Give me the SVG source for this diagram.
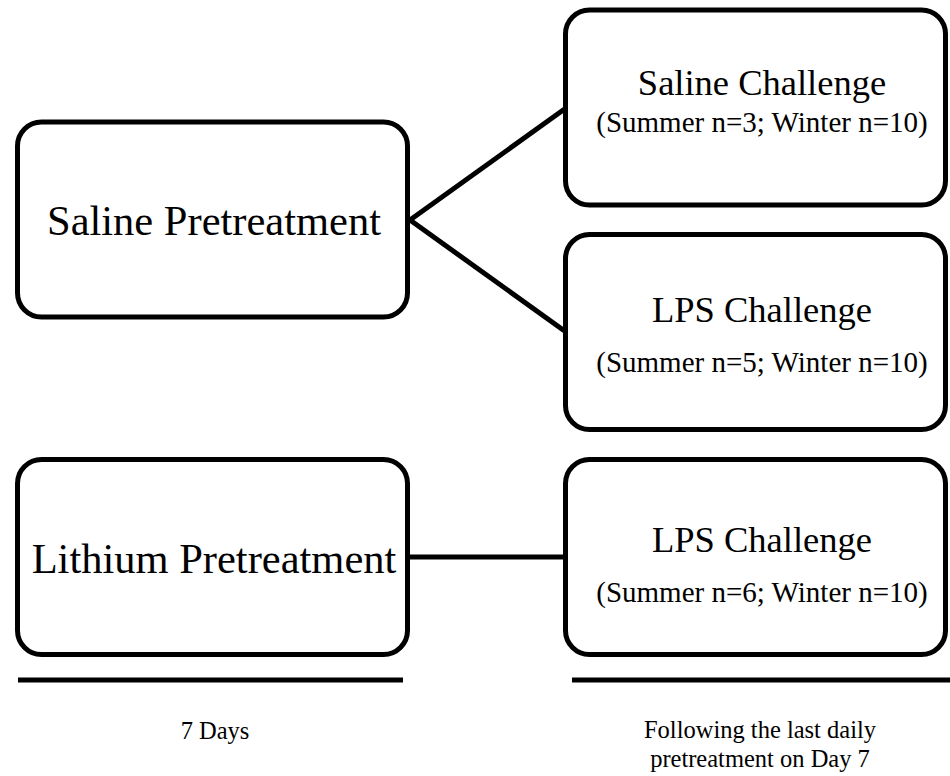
<svg xmlns="http://www.w3.org/2000/svg" width="950" height="776" viewBox="0 0 950 776">
<style>
.box{fill:#fff;stroke:#000;stroke-width:5}
.ln{stroke:#000;stroke-width:5;fill:none}
text{font-family:"Liberation Serif","Times New Roman",serif;fill:#000;text-anchor:middle}
.big{font-size:42.5px}
.title{font-size:36.5px}
.sub{font-size:29px}
.note{font-size:24.5px}
</style>
<rect width="950" height="776" fill="#fff"/>
<g id="connectors">
<line class="ln" x1="410" y1="220" x2="566" y2="108"/>
<line class="ln" x1="410" y1="220" x2="566" y2="332"/>
<line class="ln" x1="410" y1="557" x2="566" y2="557"/>
</g>
<g id="saline-pretreatment">
<rect class="box" x="17.5" y="122" width="390" height="195" rx="24"/>
<text class="big" x="214" y="235">Saline Pretreatment</text>
</g>
<g id="lithium-pretreatment">
<rect class="box" x="17.5" y="459.5" width="390" height="195" rx="24"/>
<text class="big" x="214" y="573">Lithium Pretreatment</text>
</g>
<g id="saline-challenge">
<rect class="box" x="565.5" y="10" width="380" height="195" rx="24"/>
<text class="title" x="762" y="95">Saline Challenge</text>
<text class="sub" x="762" y="132">(Summer n=3; Winter n=10)</text>
</g>
<g id="lps-challenge-1">
<rect class="box" x="565.5" y="234.5" width="380" height="195" rx="24"/>
<text class="title" x="762" y="322">LPS Challenge</text>
<text class="sub" x="762" y="372">(Summer n=5; Winter n=10)</text>
</g>
<g id="lps-challenge-2">
<rect class="box" x="565.5" y="459.5" width="380" height="195" rx="24"/>
<text class="title" x="762" y="552">LPS Challenge</text>
<text class="sub" x="762" y="602">(Summer n=6; Winter n=10)</text>
</g>
<g id="timeline">
<line class="ln" x1="18" y1="680" x2="403" y2="680"/>
<line class="ln" x1="572" y1="680" x2="950" y2="680"/>
<text class="note" x="215" y="739">7 Days</text>
<text class="note" x="760" y="738">Following the last daily</text>
<text class="note" x="760" y="767">pretreatment on Day 7</text>
</g>
</svg>
